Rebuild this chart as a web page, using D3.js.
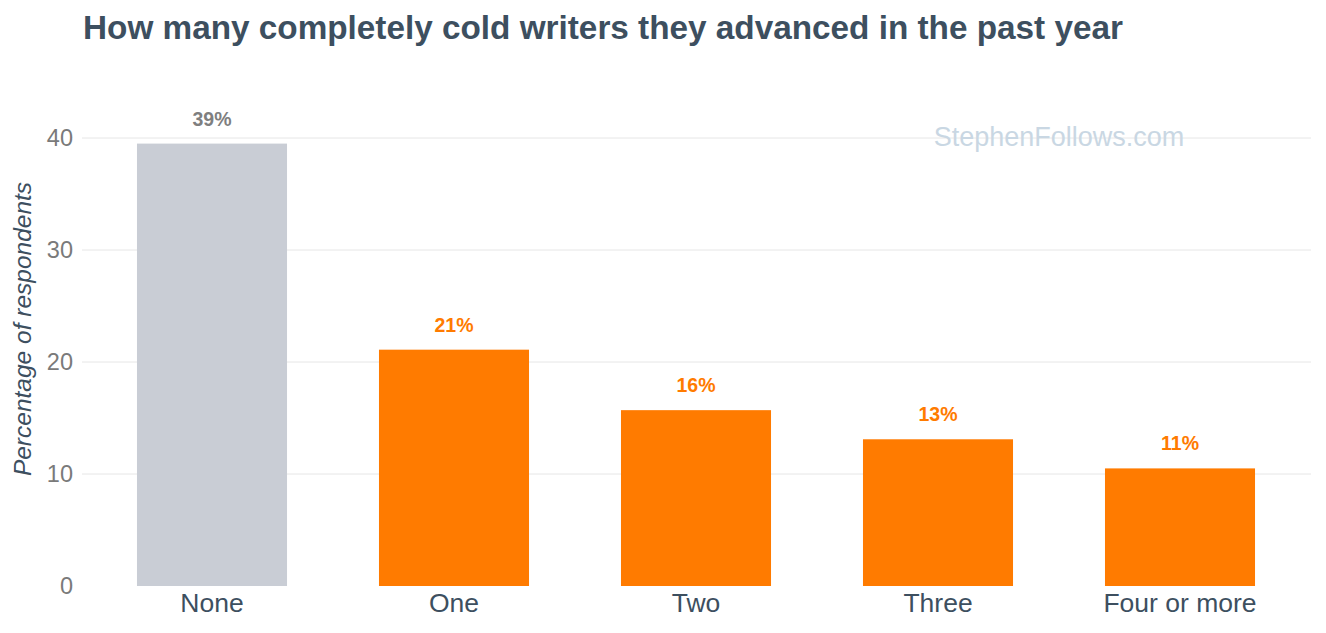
<!DOCTYPE html>
<head>
  <meta charset="utf-8" />
  <title>Cold writers advanced</title>
  <style>
    body { margin: 0; background: #fff; }
    text { font-family: "Liberation Sans", Arial, sans-serif; }
  </style>
</head>
<body>
  <script src="https://cdn.jsdelivr.net/npm/d3@7"></script>
  <script>
    // values
    var categories = ["None", "One", "Two", "Three", "Four or more"];
    var values = [39.5, 21.1, 15.7, 13.1, 10.5];
    var labels = ["39%", "21%", "16%", "13%", "11%"];
    var barColors = ["#c9cdd5", "#ff7b00", "#ff7b00", "#ff7b00", "#ff7b00"];
    var labelColors = ["#7f7f7f", "#ff7b00", "#ff7b00", "#ff7b00", "#ff7b00"];
    var yTicks = [0, 10, 20, 30, 40];

    var width = 1326, height = 633;
    var svg = d3.select("body").append("svg")
      .attr("width", width)
      .attr("height", height);

    var x = d3.scaleBand().domain(categories).range([91, 1301]).paddingInner(0.38).paddingOuter(0.19);
    var y = d3.scaleLinear().domain([0, 40]).range([586, 138]);

    // gridlines
    svg.append("g")
      .selectAll("line")
      .data(yTicks.slice(1))
      .enter()
      .append("line")
      .attr("x1", 82).attr("x2", 1311)
      .attr("y1", function (d) { return y(d); })
      .attr("y2", function (d) { return y(d); })
      .attr("stroke", "#e6e6e6")
      .attr("stroke-width", 1);

    // watermark
    svg.append("text")
      .attr("x", 1059).attr("y", 146)
      .attr("text-anchor", "middle")
      .attr("font-size", 27)
      .attr("fill", "#c9d7e3")
      .text("StephenFollows.com");

    // y axis
    var yAxis = svg.append("g")
      .attr("transform", "translate(82,0)")
      .call(d3.axisLeft(y).tickValues(yTicks).tickSize(0).tickPadding(9));
    yAxis.select(".domain").remove();
    yAxis.selectAll("text")
      .attr("font-size", 23.5)
      .attr("fill", "#7a7a7a")
      .style("font-family", "Liberation Sans, Arial, sans-serif");

    // bars
    svg.append("g")
      .selectAll("rect")
      .data(values)
      .enter()
      .append("rect")
      .attr("x", function (d, i) { return x(categories[i]); })
      .attr("y", function (d) { return y(d); })
      .attr("width", x.bandwidth())
      .attr("height", function (d) { return y(0) - y(d); })
      .attr("fill", function (d, i) { return barColors[i]; });

    // bar labels
    svg.append("g")
      .selectAll("text")
      .data(values)
      .enter()
      .append("text")
      .attr("x", function (d, i) { return x(categories[i]) + x.bandwidth() / 2; })
      .attr("y", function (d) { return y(d) - 18; })
      .attr("text-anchor", "middle")
      .attr("font-size", 19.5)
      .attr("font-weight", "bold")
      .attr("fill", function (d, i) { return labelColors[i]; })
      .text(function (d, i) { return labels[i]; });

    // x axis
    var xAxis = svg.append("g")
      .attr("transform", "translate(0,586)")
      .call(d3.axisBottom(x).tickSize(0).tickPadding(7));
    xAxis.select(".domain").remove();
    xAxis.selectAll("text")
      .attr("font-size", 26.5)
      .attr("fill", "#3d4f5f")
      .style("font-family", "Liberation Sans, Arial, sans-serif");

    // y title
    svg.append("text")
      .attr("transform", "translate(31,329) rotate(-90)")
      .attr("text-anchor", "middle")
      .attr("font-size", 24.5)
      .attr("font-style", "italic")
      .attr("fill", "#3d4f5f")
      .text("Percentage of respondents");

    // title
    svg.append("text")
      .attr("x", 83).attr("y", 39)
      .attr("font-size", 33.3)
      .attr("font-weight", "bold")
      .attr("fill", "#3d4f5f")
      .text("How many completely cold writers they advanced in the past year");
  </script>
</body>
